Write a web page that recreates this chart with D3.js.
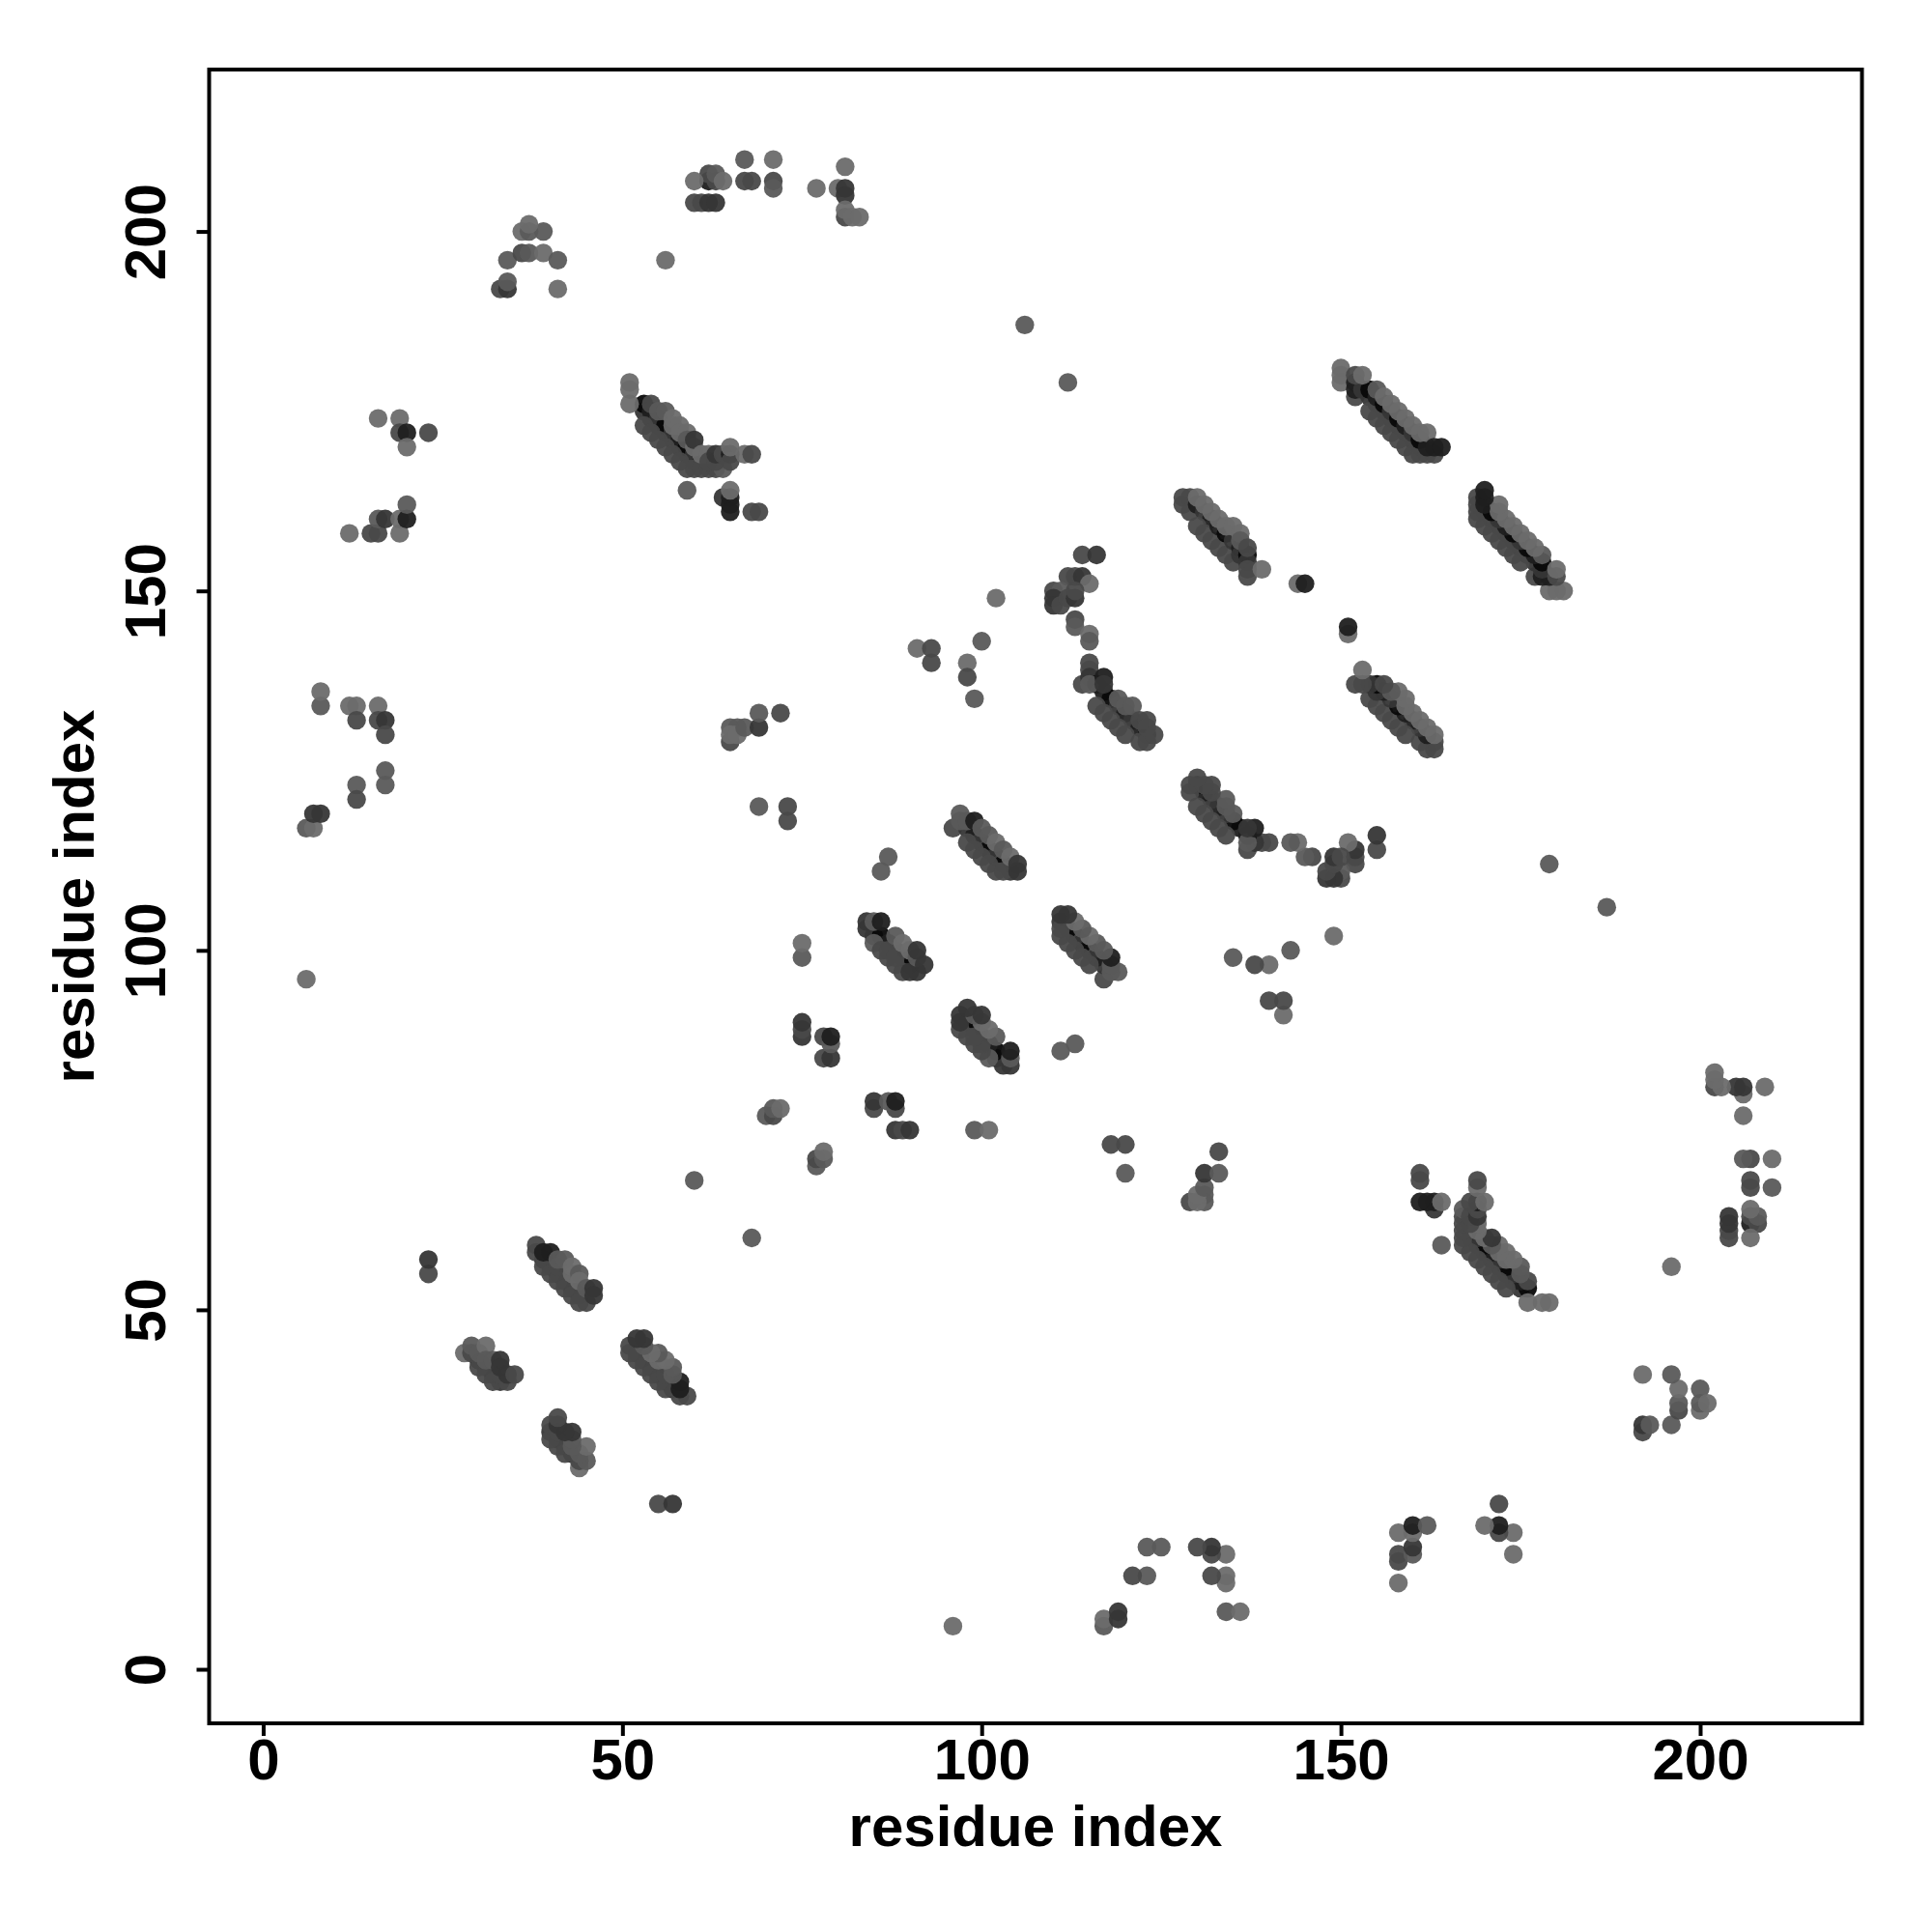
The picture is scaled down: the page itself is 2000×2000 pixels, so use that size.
<!DOCTYPE html>
<html><head><meta charset="utf-8">
<script src="https://cdn.jsdelivr.net/npm/d3@7"></script>
<style>html,body{margin:0;padding:0;background:#fff}svg{display:block}text{font-family:"Liberation Sans",Arial,sans-serif;font-weight:bold;fill:#000}</style>
</head><body><svg id="c" width="2000" height="2000"></svg>
<script>
// contact triples: [residue i, residue j, strength]; the map is symmetric, so each is drawn at (i,j) and (j,i)
const singles = [[6,96,1],[106,187,2],[112,179,2],[56,196,1],[60,68,2],[23,55,3],[23,57,4],[144,151,1],[145,151,5],[86,111,2],[87,113,2],[75,99,2],[75,101,1]];
const groupLeft1 = [[6,117,2],[7,117,1],[7,119,4],[8,119,4],[8,134,2],[8,136,1],[12,134,1],[13,134,1],[13,132,3],[13,123,2],[13,121,3],[16,134,1],[16,132,3],[17,132,4],[17,130,3],[17,125,2],[17,123,2]];
const groupLeft2 = [[12,158,1],[15,158,3],[16,158,3],[19,158,1],[16,160,2],[17,160,4],[19,160,1],[20,160,5],[20,162,2],[16,174,1],[19,174,1],[19,172,3],[20,172,5],[23,172,3],[20,170,1]];
const groupTop1 = [[33,192,3],[34,192,4],[34,193,2],[34,196,2],[36,197,3],[37,197,2],[39,197,1],[41,196,2],[41,192,1],[36,200,1],[39,200,2],[37,200,2],[37,201,1]];
const groupTop2 = [[60,204,3],[61,204,3],[62,204,4],[63,204,4],[62,207,5],[63,207,3],[62,208,3],[63,208,2],[60,207,1],[64,207,1],[67,210,2],[67,207,3],[68,207,3],[71,210,1],[71,207,3],[71,206,2],[77,206,1],[80,206,1],[81,206,4],[81,205,4],[81,209,1],[81,202,3],[81,203,1],[82,202,1],[83,202,1]];
const groupMid = [[70,77,2],[71,77,3],[71,78,2],[72,78,1],[75,88,4],[75,89,3],[75,90,4],[78,85,3],[79,85,4],[78,88,3],[79,87,2],[79,88,5],[65,129,3],[65,131,2],[66,131,2],[65,130,1],[66,130,1],[67,131,2],[69,131,4],[69,133,2],[72,133,3],[69,120,2],[73,120,3],[73,118,3],[91,142,1],[93,142,3],[93,140,3],[98,140,1],[98,138,3],[99,135,2],[100,143,2],[102,149,1]];
const strandA = [[30,43,5],[31,42,4],[32,41,5],[33,40,4],[30,42,3],[31,41,3],[32,40,3],[34,40,3],[28,44,1],[29,44,3],[29,45,2],[30,44,2],[31,45,1],[31,43,2],[32,43,2],[33,41,3],[33,43,4],[33,42,4],[34,41,4],[35,41,3]];
const strandB = [[39,57,5],[40,56,4],[41,55,5],[42,54,4],[43,53,5],[44,52,4],[45,51,3],[38,58,3],[38,59,3],[39,56,3],[40,55,3],[41,54,3],[42,53,3],[43,52,3],[44,51,3],[39,58,5],[40,58,5],[41,56,3],[41,57,2],[42,57,2],[43,55,1],[43,56,1],[44,55,2],[44,54,1],[45,53,2],[46,53,4],[46,52,4]];
const strandE = [[53,175,4],[54,174,4],[55,173,4],[56,172,4],[57,171,4],[58,170,4],[59,169,4],[60,168,4],[53,176,6],[54,175,5],[55,174,4],[56,173,6],[57,172,4],[58,171,5],[59,170,6],[60,169,4],[61,168,5],[53,173,3],[54,172,3],[55,171,3],[56,170,3],[57,169,3],[58,168,3],[59,167,3],[60,167,3],[61,167,3],[62,167,3],[63,167,3],[64,167,2],[51,179,1],[51,178,1],[51,176,1],[54,176,3],[55,175,2],[56,175,2],[57,174,1],[57,173,1],[58,173,1],[58,172,1],[59,172,1],[59,171,2],[60,170,1],[60,171,4],[61,169,1],[62,169,1],[62,168,3],[63,168,3],[63,169,4],[64,169,3],[65,169,5],[65,168,3],[65,170,1],[67,169,1],[68,169,3],[59,164,2],[64,163,4],[65,163,5],[65,162,5],[65,161,5],[65,164,1],[68,161,3],[69,161,3]];
const strandF = [[150,181,1],[150,180,1],[150,179,1],[152,177,3],[152,178,5],[152,179,5],[153,178,4],[154,177,4],[155,176,4],[156,175,4],[157,174,4],[158,173,4],[159,172,4],[160,171,4],[161,170,4],[154,175,3],[155,174,3],[156,173,3],[157,172,3],[158,171,3],[159,170,3],[160,169,3],[161,169,3],[162,169,3],[163,169,3],[154,178,6],[155,177,5],[156,176,6],[157,175,4],[158,174,6],[159,173,5],[160,172,4],[161,171,6],[162,170,5],[152,180,3],[153,180,1],[155,178,2],[156,177,1],[157,176,1],[158,175,1],[159,174,1],[160,173,1],[161,172,1],[162,172,1],[163,170,5],[164,170,5]];
const strandG = [[128,163,3],[128,162,3],[129,163,3],[129,161,3],[130,162,5],[131,161,4],[132,160,5],[130,159,3],[131,158,3],[132,157,3],[133,156,3],[134,155,3],[135,154,3],[133,159,5],[134,158,6],[135,157,4],[136,156,5],[136,155,4],[137,155,6],[137,154,4],[137,153,3],[137,152,3],[130,163,1],[131,162,1],[132,161,1],[133,160,1],[134,159,1],[135,159,1],[136,158,1],[136,157,2],[137,156,3],[139,153,1]];
const curveI = [[114,155,3],[116,155,4],[112,152,3],[113,152,3],[114,152,4],[115,151,1],[110,150,3],[111,150,2],[110,149,4],[110,148,4],[111,148,3],[112,149,3],[113,149,4],[113,150,3],[113,146,3],[113,145,2],[115,144,1],[115,143,2],[115,140,3],[115,139,3],[114,137,3],[115,138,4],[116,137,6],[117,136,5],[118,135,6],[119,134,4],[120,133,5],[121,132,4],[122,131,5],[123,130,6],[115,137,2],[117,138,5],[117,137,4],[116,134,3],[117,133,3],[118,132,3],[119,131,3],[120,130,3],[119,135,2],[120,134,2],[121,134,2],[122,132,3],[123,132,3],[122,129,3],[123,129,3],[123,131,3],[124,130,3]];
const strandJ = [[84,104,4],[84,103,4],[85,102,4],[86,102,6],[87,101,5],[88,100,4],[89,99,5],[90,98,6],[91,97,4],[85,101,2],[86,100,3],[87,99,3],[88,98,3],[89,97,3],[90,97,4],[85,104,2],[86,104,5],[87,100,3],[88,102,2],[88,99,3],[89,101,1],[90,100,1],[91,99,2],[91,100,4],[92,98,4]];
const strandK = [[96,117,3],[98,117,4],[99,116,5],[100,115,4],[101,114,6],[102,113,4],[103,112,6],[104,111,4],[98,115,3],[99,114,3],[100,113,3],[101,112,3],[102,111,3],[103,111,3],[97,119,2],[97,118,2],[98,118,2],[99,118,5],[100,117,2],[101,116,2],[102,115,1],[103,114,2],[104,113,1],[105,111,4],[105,112,4]];

const clusters = [singles, groupLeft1, groupLeft2, groupTop1, groupTop2, groupMid, strandA, strandB, strandE, strandF, strandG, curveI, strandJ, strandK];
const xTicks = [0, 50, 100, 150, 200];
const yTicks = [0, 50, 100, 150, 200];
const axisTitle = "residue index";

const svg = d3.select("#c");
const L = 216.5, R = 1927.5, T = 72, B = 1784;
const domain = [1 - 213 * 0.04, 214 + 213 * 0.04];
const x = d3.scaleLinear().domain(domain).range([L, R]);
const y = d3.scaleLinear().domain(domain).range([B, T]);
const shade = d3.scaleOrdinal().domain([1,2,3,4,5,6]).range(["#6b6b6b","#5a5a5a","#494949","#363636","#1f1f1f","#080808"]);

const pts = clusters.flat();
const g = svg.append("g");
[pts, pts.map(d => [d[1], d[0], d[2]])].forEach(list => {
  g.append("g").selectAll("circle").data(list).join("circle")
    .attr("cx", d => x(d[0])).attr("cy", d => y(d[1])).attr("r", 9.7)
    .attr("fill", d => shade(d[2])).attr("fill-opacity", 0.95);
});

const ax = svg.append("g").attr("transform", `translate(0,${B})`)
  .call(d3.axisBottom(x).tickValues(xTicks).tickFormat(d3.format("d")).tickSize(13).tickPadding(2));
ax.select(".domain").remove();
ax.selectAll("line").attr("stroke", "#000").attr("stroke-width", 4);
ax.selectAll("text").attr("font-size", 60).attr("dy", "0.72em");
const ay = svg.append("g").attr("transform", `translate(${L},0)`)
  .call(d3.axisLeft(y).tickValues(yTicks).tickFormat(d3.format("d")).tickSize(13).tickPadding(0));
ay.select(".domain").remove();
ay.selectAll("line").attr("stroke", "#000").attr("stroke-width", 4);
ay.selectAll("text").attr("font-size", 60).attr("text-anchor", "middle").attr("dy", 0)
  .attr("x", 0).attr("y", 0)
  .attr("transform", `translate(${171 - L},0) rotate(-90)`);

svg.append("rect").attr("x", L).attr("y", T).attr("width", R - L).attr("height", B - T)
  .attr("fill", "none").attr("stroke", "#000").attr("stroke-width", 4);
svg.append("text").attr("x", (L + R) / 2).attr("y", 1911).attr("text-anchor", "middle").attr("font-size", 60).text(axisTitle);
svg.append("text").attr("transform", `translate(97,${(T + B) / 2}) rotate(-90)`).attr("text-anchor", "middle").attr("font-size", 60).text(axisTitle);
</script></body></html>
